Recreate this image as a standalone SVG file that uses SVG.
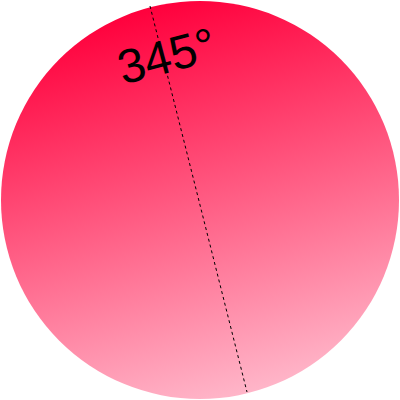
<svg xmlns="http://www.w3.org/2000/svg" width="400" height="400" viewBox="0 0 400 400">
  <defs>
    <linearGradient id="g" gradientUnits="userSpaceOnUse" x1="251.8" y1="393.2" x2="148.2" y2="6.8">
      <stop offset="0" stop-color="#ffb6c9"/>
      <stop offset="1" stop-color="#ff003c"/>
    </linearGradient>
    <style>
      .lbl { font-family: "Liberation Sans", Arial, sans-serif; font-size: 48px; fill: #000; }
      .axis { stroke: #000; stroke-width: 1; stroke-dasharray: 3 3; fill: none; }
    </style>
  </defs>
  <g id="disc">
    <circle cx="200" cy="200" r="199" fill="url(#g)"/>
  </g>
  <g id="connectors">
    <line class="axis" x1="150" y1="6" x2="247" y2="392"/>
  </g>
  <g id="label">
    <text class="lbl" text-anchor="middle" transform="translate(171,72) rotate(-15)">345°</text>
  </g>
</svg>
